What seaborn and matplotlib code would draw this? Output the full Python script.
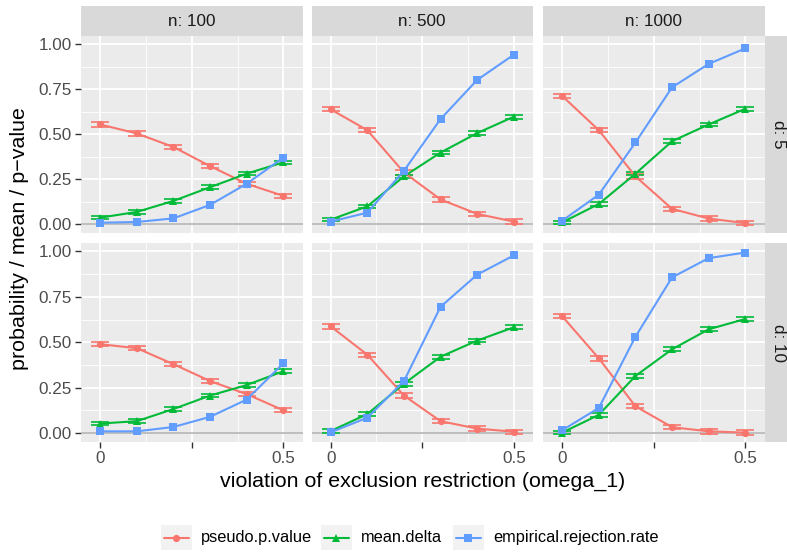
import numpy as np
import pandas as pd
import matplotlib
matplotlib.use("Agg")
import matplotlib.pyplot as plt
import seaborn as sns
from matplotlib.lines import Line2D
from matplotlib.patches import Rectangle

# ---------------- data ----------------
omega = [0.0, 0.1, 0.2, 0.3, 0.4, 0.5]
n_levels = [100, 500, 1000]
d_levels = [5, 10]
series = ["pseudo.p.value", "mean.delta", "empirical.rejection.rate"]

# d = 5
p_d5_n100 = [0.554, 0.504, 0.429, 0.323, 0.225, 0.158]
m_d5_n100 = [0.037, 0.069, 0.130, 0.206, 0.281, 0.344]
r_d5_n100 = [0.009, 0.013, 0.033, 0.108, 0.225, 0.370]

p_d5_n500 = [0.638, 0.522, 0.288, 0.138, 0.058, 0.015]
m_d5_n500 = [0.026, 0.100, 0.266, 0.398, 0.506, 0.597]
r_d5_n500 = [0.015, 0.065, 0.297, 0.584, 0.801, 0.941]

p_d5_n1000 = [0.712, 0.522, 0.266, 0.086, 0.032, 0.007]
m_d5_n1000 = [0.011, 0.113, 0.281, 0.461, 0.554, 0.641]
r_d5_n1000 = [0.020, 0.165, 0.454, 0.760, 0.890, 0.976]

# d = 10
p_d10_n100 = [0.489, 0.467, 0.379, 0.286, 0.214, 0.125]
m_d10_n100 = [0.052, 0.065, 0.132, 0.206, 0.264, 0.340]
r_d10_n100 = [0.009, 0.009, 0.033, 0.089, 0.184, 0.383]

p_d10_n500 = [0.587, 0.431, 0.206, 0.065, 0.024, 0.007]
m_d10_n500 = [0.011, 0.104, 0.271, 0.420, 0.509, 0.582]
r_d10_n500 = [0.004, 0.084, 0.286, 0.695, 0.872, 0.978]

p_d10_n1000 = [0.643, 0.411, 0.147, 0.032, 0.009, 0.002]
m_d10_n1000 = [0.002, 0.100, 0.314, 0.461, 0.571, 0.628]
r_d10_n1000 = [0.015, 0.138, 0.530, 0.857, 0.963, 0.994]

# standard errors (error bars) for p-value and mean.delta
se_p = [0.012, 0.012, 0.012, 0.012, 0.012, 0.012]
se_m = [0.010, 0.010, 0.010, 0.010, 0.010, 0.010]

x_tick_vals = [0.0, 0.25, 0.5]
x_tick_labels = ["0", "", "0.5"]
y_tick_vals = [0.0, 0.25, 0.5, 0.75, 1.0]
y_tick_labels = ["0.00", "0.25", "0.50", "0.75", "1.00"]

panel_data = {
    (5, 100): (p_d5_n100, m_d5_n100, r_d5_n100),
    (5, 500): (p_d5_n500, m_d5_n500, r_d5_n500),
    (5, 1000): (p_d5_n1000, m_d5_n1000, r_d5_n1000),
    (10, 100): (p_d10_n100, m_d10_n100, r_d10_n100),
    (10, 500): (p_d10_n500, m_d10_n500, r_d10_n500),
    (10, 1000): (p_d10_n1000, m_d10_n1000, r_d10_n1000),
}

rows = []
for (d, n), vals in panel_data.items():
    for s, v in zip(series, vals):
        for i, x in enumerate(omega):
            se = se_p[i] if s == series[0] else (se_m[i] if s == series[1] else 0.0)
            rows.append(dict(d=d, n=n, series=s, omega=x, value=v[i], se=se))
df = pd.DataFrame(rows)

# ---------------- style ----------------
sns.set_theme(style="white")
plt.rcParams["font.family"] = ["Liberation Sans", "DejaVu Sans"]

colors = {"pseudo.p.value": "#F8766D", "mean.delta": "#00BA38",
          "empirical.rejection.rate": "#619CFF"}
markers = {"pseudo.p.value": "o", "mean.delta": "^", "empirical.rejection.rate": "s"}
msizes = {"pseudo.p.value": 5.2, "mean.delta": 6.4, "empirical.rejection.rate": 5.6}

W, H = 787, 558
fig = plt.figure(figsize=(W / 100, H / 100), dpi=100)

col_left = [81, 311.5, 543]
col_w = 221.5
row_top = [36, 243.3]
row_bot = [233.3, 442]

def fx(px):
    return px / W

def fy(py):
    return 1 - py / H

tick_fs = 12.3
strip_fs = 12.3
title_fs = 15.4
legend_fs = 11.8

for ri, d in enumerate(d_levels):
    for ci, n in enumerate(n_levels):
        ax = fig.add_axes([fx(col_left[ci]), fy(row_bot[ri]), col_w / W,
                           (row_bot[ri] - row_top[ri]) / H])
        ax.set_facecolor("#EBEBEB")
        for sp in ax.spines.values():
            sp.set_visible(False)
        ax.set_xlim(-0.0525, 0.5525)
        ax.set_ylim(-0.0497, 1.0447)
        # grid
        for xv in [0.125, 0.375]:
            ax.axvline(xv, color="white", lw=0.6, zorder=0)
        for yv in [0.125, 0.375, 0.625, 0.875]:
            ax.axhline(yv, color="white", lw=0.6, zorder=0)
        for xv in x_tick_vals:
            ax.axvline(xv, color="white", lw=1.3, zorder=0)
        for yv in y_tick_vals:
            ax.axhline(yv, color="white", lw=1.3, zorder=0)
        ax.axhline(0, color="#BEBEBE", lw=1.4, zorder=1)

        sub = df[(df.d == d) & (df.n == n)]
        # error bars
        for s in series[:2]:
            ss = sub[sub.series == s]
            ax.errorbar(ss.omega, ss.value, yerr=ss.se, fmt="none",
                        ecolor=colors[s], elinewidth=1.1, capsize=6.5,
                        capthick=1.2, zorder=2)
        sns.lineplot(data=sub, x="omega", y="value", hue="series",
                     hue_order=series, palette=colors, style="series",
                     style_order=series, markers=markers, dashes=False,
                     markersize=6, markeredgewidth=0, linewidth=1.5,
                     legend=False, ax=ax, zorder=3)
        # marker sizes per series
        for l in ax.get_lines():
            c = matplotlib.colors.to_hex(l.get_color()).upper()
            for s in series:
                if colors[s].upper() == c and l.get_marker() == markers[s]:
                    l.set_markersize(msizes[s])

        ax.set_xlabel("")
        ax.set_ylabel("")
        ax.set_xticks(x_tick_vals)
        ax.set_yticks(y_tick_vals)
        ax.tick_params(axis="both", length=4.2, width=1.0, color="#333333",
                       labelcolor="#4D4D4D", labelsize=tick_fs, pad=2.5,
                       bottom=True, left=True)
        if ri == len(d_levels) - 1:
            ax.set_xticklabels(x_tick_labels)
        else:
            ax.tick_params(axis="x", bottom=False, labelbottom=False)
        if ci == 0:
            ax.set_yticklabels(y_tick_labels)
        else:
            ax.tick_params(axis="y", left=False, labelleft=False)

        # top strip
        if ri == 0:
            fig.patches.append(Rectangle((fx(col_left[ci]), fy(36)), col_w / W,
                                         (36 - 6) / H, transform=fig.transFigure,
                                         facecolor="#D9D9D9", edgecolor="none"))
            fig.text(fx(col_left[ci] + col_w / 2), fy(21), f"n: {n}",
                     ha="center", va="center", fontsize=strip_fs, color="#1A1A1A")
        # right strip
        if ci == len(n_levels) - 1:
            fig.patches.append(Rectangle((fx(764.5), fy(row_bot[ri])), (W - 764.5) / W,
                                         (row_bot[ri] - row_top[ri]) / H,
                                         transform=fig.transFigure,
                                         facecolor="#D9D9D9", edgecolor="none"))
            fig.text(fx(779), fy((row_top[ri] + row_bot[ri]) / 2), f"d: {d}",
                     ha="center", va="center", rotation=-90, fontsize=strip_fs,
                     color="#1A1A1A")

fig.text(fx((81 + 764.5) / 2), fy(481), "violation of exclusion restriction (omega_1)",
         ha="center", va="center", fontsize=title_fs, color="black")
fig.text(fx(20), fy(239), "probability / mean / p\u2212value", ha="center",
         va="center", rotation=90, fontsize=title_fs, color="black")

# legend (ggplot style keys)
key_left = [160.7, 320.7, 452.7]
key_w = 31
key_top, key_bot = 525, 550
for s, kl in zip(series, key_left):
    fig.patches.append(Rectangle((fx(kl), fy(key_bot)), key_w / W,
                                 (key_bot - key_top) / H, transform=fig.transFigure,
                                 facecolor="#F2F2F2", edgecolor="none"))
    yc = fy((key_top + key_bot) / 2)
    fig.lines.append(Line2D([fx(kl + 3), fx(kl + key_w - 3)], [yc, yc],
                            transform=fig.transFigure, color=colors[s], lw=1.5))
    fig.lines.append(Line2D([fx(kl + key_w / 2)], [yc], transform=fig.transFigure,
                            color=colors[s], marker=markers[s],
                            markersize=msizes[s], markeredgewidth=0, lw=0))
    fig.text(fx(kl + key_w + 9.5), yc, s, ha="left", va="center",
             fontsize=legend_fs, color="black")

fig.savefig("out.png", dpi=100)
